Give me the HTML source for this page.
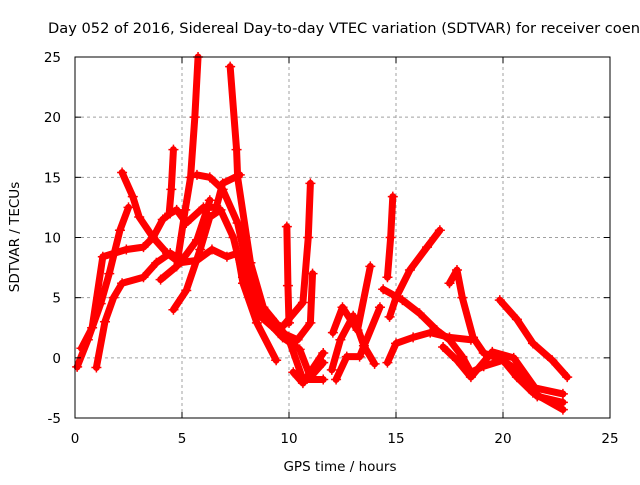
<!DOCTYPE html>
<html><head><meta charset="utf-8"><style>
body{margin:0;background:#fff;}
svg text{font-family:"DejaVu Sans","Liberation Sans",sans-serif;font-size:13.5px;fill:#000;}
</style></head><body>
<svg id="chart" width="640" height="480" viewBox="0 0 640 480">
<text x="48" y="33" style="font-size:14.5px" textLength="592" lengthAdjust="spacingAndGlyphs">Day 052 of 2016, Sidereal Day-to-day VTEC variation (SDTVAR) for receiver coen</text>
<g id="grid"></g>
<g id="marks"></g>
<rect x="75" y="57" width="535" height="361" fill="none" stroke="#000" stroke-width="1"/>
<g id="ticks"></g>
<text x="340" y="471" text-anchor="middle">GPS time / hours</text>
<text transform="translate(19,237) rotate(-90)" text-anchor="middle">SDTVAR / TECUs</text>
</svg>
<script>
const xTicks=[0,5,10,15,20,25];
const yTicks=[-5,0,5,10,15,20,25];
const track1=[[0.1,-0.75],[0.6,1.5],[1.2,4.5],[1.6,7],[2.1,10.6],[2.5,12.5]];
const track2=[[2.2,15.4],[2.7,13.4],[3.0,11.7],[3.65,10],[4.3,8.7],[4.9,7.9],[5.7,8.1],[6.4,9],[7.1,8.4],[7.6,8.7],[7.85,6.2],[8.5,2.9],[9.4,-0.2]];
const track3=[[0.3,0.8],[0.8,2.5],[1.3,8.4],[2.4,9],[3.2,9.2],[3.65,10],[4.1,11.5],[4.45,12],[4.75,12.3],[5.2,11.2],[6.0,12.5],[6.6,12.5],[6.9,14.5],[7.7,15.2]];
const track4=[[4.4,12],[4.5,14],[4.6,17.3]];
const track5=[[1.0,-0.8],[1.4,3],[1.8,5],[2.2,6.2],[3.2,6.7],[3.8,7.9],[4.45,8.7],[5.0,8.1],[5.7,9.8],[6.2,12.5],[6.3,13.1]];
const track6=[[4.6,4],[5.2,5.6],[5.85,9],[6.3,11.7],[6.8,12.3],[7.4,10],[7.85,6.7],[8.5,3.7],[9.4,2.3],[10.4,1.5],[11.0,2.9],[11.1,7]];
const track7=[[4.0,6.5],[4.75,7.6],[5.15,12.3],[5.4,15],[5.6,20],[5.75,25]];
const track8=[[5.7,15.2],[6.3,15],[6.9,14],[7.6,11.2],[8.2,6.2],[8.8,3.4],[9.7,1.7],[10.5,0.7],[11.0,-1.6],[11.6,-0.4]];
const track9=[[7.25,24.2],[7.55,17.3],[7.6,15],[8.2,7.9],[8.8,4.2],[9.4,2.9],[10.0,1.5],[10.65,-1.8],[11.6,-1.8]];
const track10=[[9.9,10.9],[9.95,6],[10.0,2.9]];
const track11=[[9.7,2.6],[10.65,4.6],[10.9,10],[11.0,14.5]];
const track12=[[12.05,2.1],[12.5,4.2],[13.2,2.3],[13.8,7.6]];
const track13=[[12.2,-1.8],[12.7,0.1],[13.3,0.1],[14.25,4.2]];
const track14=[[14.6,-0.4],[15.0,1.2],[15.8,1.7],[16.6,2.1],[17.5,1.7],[18.5,1.5]];
const track15=[[14.4,5.7],[15.3,4.8],[16.1,3.7],[16.9,2.3],[17.5,1.5],[18.1,0.1],[18.5,-1.2],[19.1,-0.7],[20.0,-0.2],[20.8,-1.2],[21.6,-3.2],[22.8,-3.7]];
const track16=[[14.7,3.4],[15.0,5],[15.65,7.3],[16.45,9.2],[17.05,10.6]];
const track17=[[17.5,6.2],[17.85,7.3],[18.1,5],[18.6,1.7],[19.1,0.4],[20.0,-0.2],[20.65,-1.6],[21.4,-2.9],[22.8,-4.3]];
const track18=[[19.85,4.8],[20.65,3.2],[21.4,1.2],[22.3,-0.2],[23.0,-1.6]];
const track19=[[14.6,6.7],[14.75,10],[14.85,13.4]];
const track20=[[10.2,-1.2],[10.65,-2.1],[11.6,0.4]];
const track21=[[12.0,-1],[12.4,1.5],[13.0,3.5],[13.5,1],[14.0,-0.5]];
const track22=[[17.2,0.9],[17.85,-0.2],[18.5,-1.6],[19.5,0.5],[20.5,0],[21.5,-2.5],[22.8,-3]];
const tracks=[track1,track2,track3,track4,track5,track6,track7,track8,track9,track10,track11,track12,track13,track14,track15,track16,track17,track18,track19,track20,track21,track22];

const X0=75,X1=610,Y0=418,Y1=57,XMIN=0,XMAX=25,YMIN=-5,YMAX=25;
function sx(v){return X0+(v-XMIN)/(XMAX-XMIN)*(X1-X0);}
function sy(v){return Y0-(v-YMIN)/(YMAX-YMIN)*(Y0-Y1);}
const NS='http://www.w3.org/2000/svg';
const grid=document.getElementById('grid'),ticks=document.getElementById('ticks'),marks=document.getElementById('marks');
function mk(tag,attrs,parent){const e=document.createElementNS(NS,tag);for(const k in attrs)e.setAttribute(k,attrs[k]);parent.appendChild(e);return e;}
xTicks.forEach(t=>{
  const x=sx(t);
  if(t>XMIN&&t<XMAX){const g=mk('line',{x1:x,x2:x,y1:Y0,y2:Y1,stroke:'#a0a0a0','stroke-dasharray':'3,3'},grid);
  
  }
  const l=mk('line',{x1:x,x2:x,y1:Y0,y2:Y0-6,stroke:'#000'},ticks);
  
  
  const l2=mk('line',{x1:x,x2:x,y1:Y1,y2:Y1+6,stroke:'#000'},ticks);
  
  
  const tx=mk('text',{x:x,y:443,'text-anchor':'middle'},ticks);tx.textContent=t;
  
  
});
yTicks.forEach(t=>{
  const y=sy(t);
  if(t>YMIN&&t<YMAX){const g=mk('line',{x1:X0,x2:X1,y1:y,y2:y,stroke:'#a0a0a0','stroke-dasharray':'3,3'},grid);
  
  }
  const l=mk('line',{x1:X0,x2:X0+6,y1:y,y2:y,stroke:'#000'},ticks);
  
  
  const l2=mk('line',{x1:X1,x2:X1-6,y1:y,y2:y,stroke:'#000'},ticks);
  
  
  const tx=mk('text',{x:61,y:y+5,'text-anchor':'end'},ticks);tx.textContent=t;
  
  
});
tracks.forEach((tr,i)=>{
  const p=mk('polyline',{points:tr.map(d=>sx(d[0])+','+sy(d[1])).join(' '),fill:'none',stroke:'#ff0000','stroke-width':7,'stroke-linejoin':'round','stroke-linecap':'round'},marks);
  
  
  tr.forEach(d=>{
    const m=mk('path',{d:`M${sx(d[0])-5},${sy(d[1])}h10M${sx(d[0])},${sy(d[1])-5}v10`,stroke:'#ff0000','stroke-width':1.5},marks);
    
    
  });
});
</script>
</body></html>
